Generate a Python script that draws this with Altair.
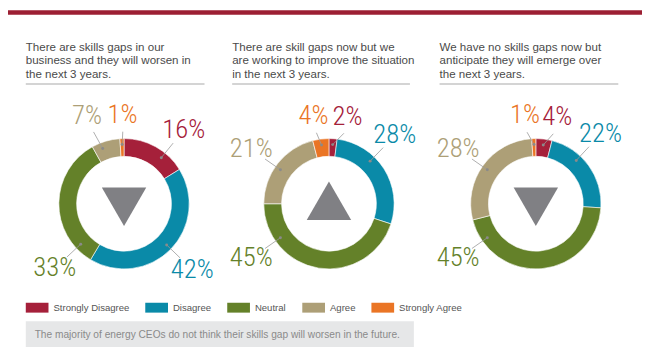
import math
import altair as alt
import pandas as pd

# ---------------- data ----------------
CATEGORIES = ["Strongly Disagree", "Disagree", "Neutral", "Agree", "Strongly Agree"]
COLORS = ["#a5203a", "#0a8aa8", "#648129", "#ad9f77", "#ea7525"]
TITLES = [
    "There are skills gaps in our\nbusiness and they will worsen in\nthe next 3 years.",
    "There are skill gaps now but we\nare working to improve the situation\nin the next 3 years.",
    "We have no skills gaps now but\nanticipate they will emerge over\nthe next 3 years.",
]
VALUES_1 = [16, 42, 33, 7, 1]
VALUES_2 = [2, 28, 45, 21, 4]
VALUES_3 = [4, 22, 45, 28, 1]
ARROWS = ["triangle-down", "triangle-up", "triangle-down"]
FOOTNOTE = "The majority of energy CEOs do not think their skills gap will worsen in the future."

# ---------------- layout ----------------
W, H = 642, 352
CX = [125.5, 333, 542.5]
CY = 204
R_OUT, R_IN = 66, 48
TITLE_X = [26, 235, 445]
RULE_X2 = [207, 415, 626]
# label placement angles (degrees clockwise from 12 o'clock), one per category
LABEL_ANGLE = [[39, 134, 227, 337, 359], [12, 44, 235, 305, 350], [14, 43, 235, 305, 353]]
ARROW_SHIFT = {"triangle-down": 3, "triangle-up": -3}

LABEL_FONT = "Roboto Condensed, Open Sans Condensed, Liberation Sans Narrow, Roboto, sans-serif"
TEXT_FONT = "Liberation Sans, Arial, sans-serif"

xs = alt.Scale(domain=[8, 650], range=[0, W])
ys = alt.Scale(domain=[8, 360], range=[0, H])


def X(f):
    return alt.X(f, type="quantitative", scale=xs, axis=None)


def Y(f):
    return alt.Y(f, type="quantitative", scale=ys, axis=None)


seg_rows, lab_rows, lead_rows = [], [], []
for p, vals in enumerate([VALUES_1, VALUES_2, VALUES_3]):
    total = sum(vals)
    cum = 0
    for k, v in enumerate(vals):
        t0 = cum / total * 100
        cum += v
        t1 = cum / total * 100
        seg_rows.append(dict(panel=p, category=CATEGORIES[k], t0=t0, t1=t1, cx=CX[p], cy=CY))
        la = LABEL_ANGLE[p][k]
        a0, a1 = t0 * 3.6, t1 * 3.6
        m = min(8, (a1 - a0) / 2)
        la_n = la if la >= a0 - 30 else la + 360
        da = min(max(la_n, a0 + m), a1 - m)
        near_top = min(abs(la), abs(360 - la)) < 20
        R = 90 if near_top else 96
        rad = math.radians(la)
        lab_rows.append(dict(
            label=f"{v}%", hex=COLORS[k],
            lx=CX[p] + R * math.sin(rad), ly=CY - R * math.cos(rad)))
        drad = math.radians(da)
        re = R - 17
        lead_rows.append(dict(
            x1=CX[p] + 60 * math.sin(drad), y1=CY - 60 * math.cos(drad),
            x2=CX[p] + re * math.sin(rad), y2=CY - re * math.cos(rad)))

seg = pd.DataFrame(seg_rows)
labs = pd.DataFrame(lab_rows)
leads = pd.DataFrame(lead_rows)
titles = pd.DataFrame(dict(title=TITLES, x=TITLE_X, x2=RULE_X2, y=[49] * 3, ry=[82.7] * 3))
arrows = pd.DataFrame(dict(shape=ARROWS, x=CX, y=[CY + ARROW_SHIFT[a] for a in ARROWS]))
band = pd.DataFrame(dict(x=[8], x2=[650], y=[8], y2=[12.7]))
foot = pd.DataFrame(dict(x=[26], x2=[419], y=[323], y2=[349], tx=[35], ty=[336.5], text=[FOOTNOTE]))

cscale = alt.Scale(domain=CATEGORIES, range=COLORS)

band_l = alt.Chart(band).mark_rect(color="#9c1f33").encode(x=X("x"), x2="x2", y=Y("y"), y2="y2")

title_l = alt.Chart(titles).mark_text(
    align="left", baseline="alphabetic", font=TEXT_FONT, fontSize=11.7, lineHeight=13.6,
    color="#4a4a4a", lineBreak="\n"
).encode(x=X("x"), y=Y("y"), text="title:N")

rule_l = alt.Chart(titles).mark_rule(color="#c6c6c6", strokeWidth=1.5).encode(
    x=X("x"), x2="x2", y=Y("ry"))

arc_l = alt.Chart(seg).mark_arc(radius=R_OUT, radius2=R_IN, stroke="white", strokeWidth=0.6).encode(
    x=X("cx"), y=Y("cy"),
    theta=alt.Theta("t0:Q", stack=None, scale=alt.Scale(domain=[0, 100], range=[0, 2 * math.pi])),
    theta2="t1:Q",
    color=alt.Color(
        "category:N", scale=cscale,
        legend=alt.Legend(
            title=None, orient="none", direction="horizontal", legendX=18, legendY=289.5,
            symbolType="M-1,-0.4348H1V0.4348H-1Z", symbolSize=529, symbolStrokeWidth=0,
            symbolOpacity=1, labelFont=TEXT_FONT, labelFontSize=9.7, labelColor="#555555",
            columnPadding=16, labelOffset=5, padding=0,
        ),
    ),
)

lead_l = alt.Chart(leads).mark_rule(color="#9a9a9a", strokeWidth=0.8).encode(
    x=X("x1"), y=Y("y1"), x2="x2", y2="y2")
dot_l = alt.Chart(leads).mark_circle(color="#8a8a8a", size=9, opacity=1).encode(x=X("x1"), y=Y("y1"))

label_l = alt.Chart(labs).mark_text(
    font=LABEL_FONT, fontSize=27, fontWeight=300, align="center", baseline="middle"
).encode(x=X("lx"), y=Y("ly"), text="label:N", color=alt.Color("hex:N", scale=None))

arrow_l = alt.Chart(arrows).mark_point(filled=True, size=2025, color="#808084", opacity=1, strokeWidth=0).encode(
    x=X("x"), y=Y("y"), shape=alt.Shape("shape:N", scale=None))

foot_box = alt.Chart(foot).mark_rect(color="#e6e7e8").encode(x=X("x"), x2="x2", y=Y("y"), y2="y2")
foot_txt = alt.Chart(foot).mark_text(
    align="left", baseline="middle", font=TEXT_FONT, fontSize=10.3, color="#8a8a8a"
).encode(x=X("tx"), y=Y("ty"), text="text:N")

chart = alt.layer(
    band_l, title_l, rule_l, arc_l, lead_l, dot_l, label_l, arrow_l, foot_box, foot_txt
).properties(
    width=W, height=H, padding=0, autosize=alt.AutoSizeParams(type="none")
).configure_view(stroke=None)

chart.save("out.html", embed_options={"renderer": "svg", "actions": False})
